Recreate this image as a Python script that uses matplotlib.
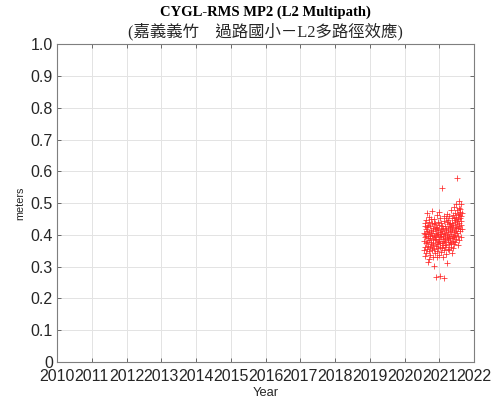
import numpy as np
import pandas as pd
import matplotlib
matplotlib.use("Agg")
import matplotlib.pyplot as plt

# MP2 RMS (meters), one sample every 2 days starting 2020-07-22
start_date = "2020-07-22"
mp2 = [
    0.382, 0.407, 0.353, 0.428, 0.394, 0.361, 0.436, 0.402, 0.334, 0.419,
    0.373, 0.447, 0.398, 0.342, 0.413, 0.377, 0.468, 0.356, 0.424, 0.389,
    0.314, 0.431, 0.404, 0.366, 0.442, 0.348, 0.409, 0.384, 0.457, 0.325,
    0.396, 0.363, 0.427, 0.391, 0.338, 0.416, 0.372, 0.451, 0.405, 0.379,
    0.352, 0.439, 0.401, 0.358, 0.476, 0.387, 0.331, 0.423, 0.376, 0.412,
    0.368, 0.434, 0.302, 0.397, 0.449, 0.357, 0.393, 0.418, 0.343, 0.437,
    0.383, 0.268, 0.406, 0.364, 0.426, 0.388, 0.462, 0.349, 0.403, 0.371,
    0.421, 0.329, 0.378, 0.441, 0.399, 0.359, 0.414, 0.473, 0.386, 0.337,
    0.432, 0.381, 0.408, 0.362, 0.271, 0.395, 0.453, 0.374, 0.417, 0.392,
    0.347, 0.438, 0.403, 0.376, 0.547, 0.411, 0.358, 0.429, 0.387, 0.332,
    0.422, 0.369, 0.397, 0.458, 0.381, 0.266, 0.407, 0.351, 0.443, 0.389,
    0.363, 0.428, 0.402, 0.377, 0.452, 0.339, 0.414, 0.368, 0.419, 0.394,
    0.441, 0.312, 0.399, 0.467, 0.383, 0.422, 0.357, 0.408, 0.386, 0.448,
    0.372, 0.433, 0.396, 0.354, 0.459, 0.412, 0.378, 0.437, 0.391, 0.424,
    0.361, 0.478, 0.404, 0.427, 0.373, 0.452, 0.389, 0.416, 0.344, 0.439,
    0.418, 0.382, 0.463, 0.398, 0.431, 0.359, 0.487, 0.409, 0.393, 0.454,
    0.371, 0.442, 0.423, 0.468, 0.401, 0.379, 0.447, 0.426, 0.498, 0.413,
    0.457, 0.388, 0.434, 0.479, 0.406, 0.578, 0.443, 0.368, 0.466, 0.421,
    0.449, 0.397, 0.486, 0.428, 0.462, 0.384, 0.438, 0.506, 0.417, 0.471,
    0.411, 0.453, 0.481, 0.432, 0.392, 0.459, 0.497, 0.444, 0.419, 0.468,
]
year_ticks = list(range(2010, 2023))
y_ticks = [0, 0.1, 0.2, 0.3, 0.4, 0.5, 0.6, 0.7, 0.8, 0.9, 1.0]
y_labels = ["0", "0.1", "0.2", "0.3", "0.4", "0.5", "0.6", "0.7", "0.8", "0.9", "1.0"]

# dates -> decimal year
dates = pd.date_range(start_date, periods=len(mp2), freq="2D")
t = dates.year + (dates.dayofyear - 1) / 365.25

fig = plt.figure(figsize=(4.96, 4.05), dpi=100)
ax = fig.add_axes([0.115, 0.106, 0.841, 0.785])

ax.plot(t, mp2, "+", color="#ff2a2a", markersize=4.5, markeredgewidth=0.55)

ax.set_xlim(2010, 2022)
ax.set_ylim(0, 1)
ax.set_xticks(year_ticks)
ax.set_xticklabels([str(y) for y in year_ticks])
ax.set_yticks(y_ticks)
ax.set_yticklabels(y_labels)
ax.grid(True, color="#e3e3e3", linewidth=0.7)
ax.set_axisbelow(True)

ax.tick_params(direction="in", top=True, right=True, length=3, width=0.6,
               color="#555555", labelsize=11.5, labelcolor="#262626")
ax.tick_params(axis="x", pad=5)
ax.tick_params(axis="y", pad=3)
for lab in ax.get_xticklabels() + ax.get_yticklabels():
    lab.set_family("Liberation Sans")
for sp in ax.spines.values():
    sp.set_color("#7f7f7f")
    sp.set_linewidth(0.8)

ax.set_xlabel("Year", fontsize=9.3, family="Liberation Sans", color="#262626", labelpad=2)
ax.set_ylabel("meters", fontsize=7.8, family="Liberation Sans", color="#262626", labelpad=4)

fig.text(0.535, 0.970, "CYGL-RMS MP2 (L2 Multipath)", ha="center", va="center",
         fontsize=10.5, fontweight="bold", family="Liberation Serif")
fig.text(0.535, 0.921, "(嘉義義竹\u3000過路國小\uff0dL2多路徑效應)", ha="center", va="center",
         fontsize=11.8, family=["Liberation Serif", "Noto Sans CJK TC"], color="#262626")

fig.savefig("out.png", dpi=100)
